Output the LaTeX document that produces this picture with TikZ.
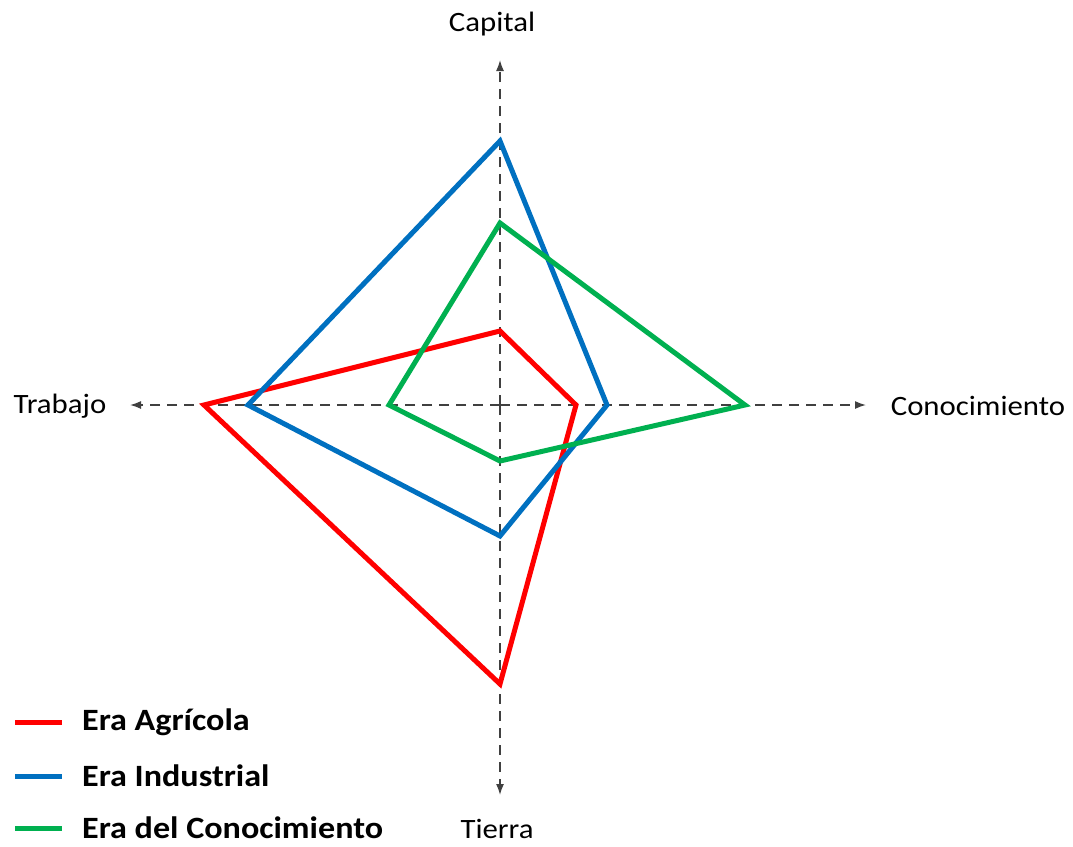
\documentclass[tikz,border=0pt]{standalone}
\usepackage{fontspec}
\setmainfont{Carlito}[FakeStretch=1.1]
\usetikzlibrary{arrows.meta}
\definecolor{agricola}{RGB}{255,0,0}
\definecolor{industrial}{RGB}{0,112,192}
\definecolor{conocim}{RGB}{0,176,80}
\definecolor{eje}{RGB}{64,64,64}
\begin{document}
\begin{tikzpicture}[x=1pt,y=-1pt,
        axis/.style={eje,line width=1.5pt,dash pattern=on 10pt off 7pt,-{Latex[length=11pt,width=8pt]}},
        era/.style={line width=5pt,line join=miter},
        lbl/.style={font=\fontsize{28}{32}\selectfont,inner sep=0pt},
        leg/.style={font=\fontsize{31}{36}\selectfont\bfseries,anchor=west,inner sep=0pt}]
    \useasboundingbox (0,0) rectangle (1073,846);
    \coordinate (O) at (500,405);
    \coordinate (up) at (500,60);
    \coordinate (down) at (500,795);
    \coordinate (left) at (130,405);
    \coordinate (right) at (866,405);
    % ejes
    \draw[axis] (O) -- (up);
    \draw[axis] (O) -- (down);
    \draw[axis] (O) -- (left);
    \draw[axis] (O) -- (right);
    \node[lbl] (capital) at (492,24) {Capital};
    \node[lbl] (tierra) at (497,829) {Tierra};
    \node[lbl] (trabajo) at (60,406) {Trabajo};
    \node[lbl] (conoc) at (978,406) {Conocimiento};
    % eras: capital/conocimiento/tierra/trabajo
    \foreach \c/\n/\a/\b/\d/\e in {agricola/A/331/576/684/204,
                                  industrial/I/141/607/536/248,
                                  conocim/C/223/745/461/389}
    {
        \coordinate (\n1) at (500,\a);
        \coordinate (\n2) at (\b,405);
        \coordinate (\n3) at (500,\d);
        \coordinate (\n4) at (\e,405);
        \draw[era,\c] (\n1) -- (\n2) -- (\n3) -- (\n4) -- cycle;
    }
    % leyenda
    \foreach \c/\t/\y in {agricola/Era Agrícola/722,
                          industrial/Era Industrial/776,
                          conocim/Era del Conocimiento/828}
    {
        \coordinate (l\c) at (15,\y);
        \coordinate (r\c) at (62,\y);
        \draw[line width=5pt,\c] (l\c) -- (r\c);
        \node[leg] (t\c) at (82,\y) {\t};
    }
\end{tikzpicture}
\end{document}
